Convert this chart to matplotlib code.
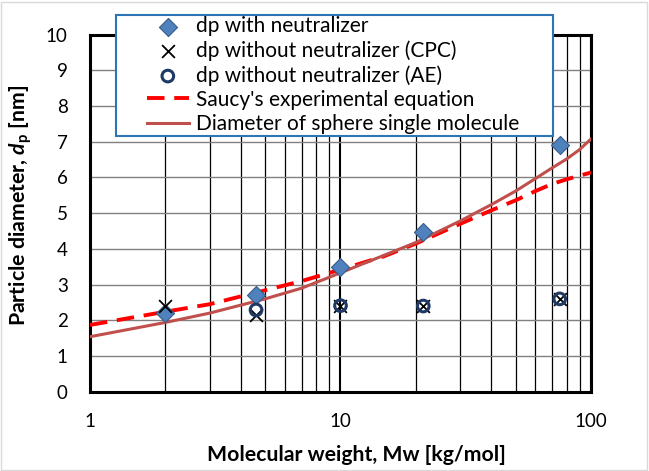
import matplotlib
matplotlib.use("Agg")
import matplotlib.pyplot as plt
from matplotlib.patches import Rectangle
from matplotlib.ticker import LogLocator, FixedLocator, NullFormatter

plt.rcParams["font.family"] = ["Lato", "DejaVu Sans"]
plt.rcParams["mathtext.fontset"] = "custom"
plt.rcParams["mathtext.rm"] = "Lato"
plt.rcParams["mathtext.bf"] = "Lato:bold"
plt.rcParams["mathtext.it"] = "Lato:italic"
plt.rcParams["mathtext.bfit"] = "Lato:bold:italic"

# measured points
mw_neut = [2.0, 4.6, 10.0, 21.4, 75.0]
dp_neut = [2.2, 2.7, 3.5, 4.48, 6.9]

mw_cpc = [2.0, 4.6, 10.0, 21.4, 75.0]
dp_cpc = [2.41, 2.15, 2.41, 2.4, 2.6]

mw_ae = [4.6, 10.0, 21.4, 75.0]
dp_ae = [2.29, 2.41, 2.4, 2.6]

# curves
saucy_mw = [1, 2, 3, 5, 7, 10, 15, 20, 30, 40, 50, 60, 70, 80, 100]
saucy_dp = [1.87, 2.24, 2.45, 2.84, 3.1, 3.42, 3.8, 4.15, 4.7, 5.08, 5.36, 5.62, 5.82, 5.95, 6.14]

sphere_mw = [1, 2, 3, 5, 7, 10, 20, 30, 40, 50, 60, 70, 80, 90, 100]
sphere_dp = [1.54, 1.94, 2.2, 2.6, 2.9, 3.33, 4.18, 4.78, 5.24, 5.62, 5.97, 6.27, 6.52, 6.78, 7.08]

W, H = 649, 471
fig = plt.figure(figsize=(W / 100, H / 100), dpi=100)
ax = fig.add_axes([90 / W, 1 - 391.7 / H, (591 - 90) / W, (391.7 - 34.7) / H])

# outer chart frame
fig.patches.append(Rectangle((1 / W, 1 / H), 1 - 3 / W, 1 - 3 / H, transform=fig.transFigure,
                             fill=False, edgecolor="#d9d9d9", linewidth=1.0))

ax.set_xscale("log")
ax.set_xlim(1, 100)
ax.set_ylim(0, 10)
ax.xaxis.set_major_locator(FixedLocator([1, 10, 100]))
ax.xaxis.set_minor_locator(LogLocator(base=10, subs=range(2, 10)))
ax.xaxis.set_minor_formatter(NullFormatter())
ax.set_xticklabels(["1", "10", "100"])
ax.set_yticks(range(0, 11))

ax.grid(True, which="major", axis="x", color="#000000", linewidth=1.5)
ax.grid(True, which="minor", axis="x", color="#000000", linewidth=0.9)
ax.grid(True, which="major", axis="y", color="#808080", linewidth=1.0)
ax.set_axisbelow(True)
ax.tick_params(axis="both", which="both", length=0, labelsize=13.5)
ax.tick_params(axis="y", pad=16)
ax.tick_params(axis="x", pad=15.5)
for sp in ax.spines.values():
    sp.set_linewidth(2.2)
    sp.set_color("black")

ax.plot(saucy_mw, saucy_dp, color="#ff0000", linewidth=2.8, linestyle=(0, (4.5, 2.5)),
        label="Saucy's experimental equation", zorder=3)
ax.plot(sphere_mw, sphere_dp, color="#c0504d", linewidth=2.2,
        label="Diameter of sphere single molecule", zorder=3)
ax.scatter(mw_neut, dp_neut, marker="D", s=85, color="#4f81bd", edgecolor="#385d8a",
           linewidth=0.8, label="dp with neutralizer", zorder=4)
ax.scatter(mw_cpc, dp_cpc, marker="x", s=85, color="black", linewidth=1.3,
           label="dp without neutralizer (CPC)", zorder=5)
ax.scatter(mw_ae, dp_ae, marker="o", s=70, facecolor="none", edgecolor="#1f3864",
           linewidth=2.2, label="dp without neutralizer (AE)", zorder=5)

ax.set_xlabel("Molecular weight, Mw [kg/mol]", fontsize=15.3, fontweight="bold")
ax.set_ylabel(r"Particle diameter, $\mathbfit{d}_\mathbf{p}$ [nm]", fontsize=15.3,
              fontweight="bold")
ax.xaxis.set_label_coords((356 - 90) / 501, (391.7 - 445) / 357)
ax.yaxis.set_label_coords((34 - 90) / 501, (391.7 - 205) / 357)

handles, labels = ax.get_legend_handles_labels()
order = [2, 3, 4, 0, 1]
leg = fig.legend([handles[i] for i in order], [labels[i] for i in order],
                 loc="upper left", bbox_to_anchor=(147 / W, 1 - 16 / H), frameon=False,
                 fontsize=15, borderpad=0, borderaxespad=0, handlelength=2.0,
                 handletextpad=0.33, labelspacing=0.2)
fig.patches.append(Rectangle((116 / W, 1 - 136 / H), (553 - 116) / W, (136 - 15) / H,
                             transform=fig.transFigure, facecolor="white",
                             edgecolor="#2e75b6", linewidth=1.5, zorder=5))
leg.set_zorder(6)

fig.savefig("out.png", dpi=100)
